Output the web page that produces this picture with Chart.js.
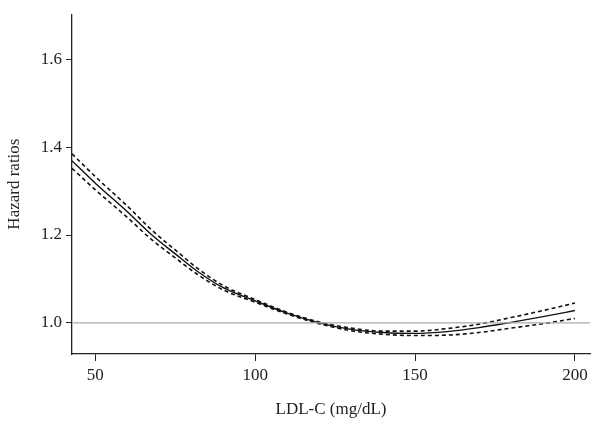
<!DOCTYPE html>
<html><head><meta charset="utf-8">
<script src="https://cdn.jsdelivr.net/npm/chart.js@4/dist/chart.umd.min.js"></script>
<style>html,body{margin:0;background:#fff}#wrap{width:594px;height:424px}</style>
</head><body><div id="wrap"><canvas id="c"></canvas></div>
<script>
const ldl = [42.7, 50, 60, 67.7, 75, 82, 90, 100, 110, 120, 130, 140, 150, 160, 170, 180, 190, 200];
const hr = [1.369, 1.318, 1.253, 1.2, 1.157, 1.117, 1.08, 1.05, 1.022, 1.0, 0.985, 0.978, 0.976, 0.98, 0.989, 1.001, 1.014, 1.028];
const upper = [1.385, 1.333, 1.266, 1.211, 1.166, 1.124, 1.085, 1.053, 1.024, 1.002, 0.988, 0.981, 0.981, 0.987, 0.997, 1.012, 1.028, 1.045];
const lower = [1.352, 1.303, 1.24, 1.189, 1.148, 1.11, 1.075, 1.047, 1.02, 0.998, 0.982, 0.974, 0.971, 0.972, 0.978, 0.988, 0.998, 1.01];
const xTicks = [50, 100, 150, 200];
const yTicks = [1.0, 1.2, 1.4, 1.6];
const xMin = 42.7, xMax = 204.7;

const pts = arr => ldl.map((x, i) => ({x: x, y: arr[i]}));
const font = {family: "'Liberation Serif', serif", size: 17};

new Chart(document.getElementById('c'), {
    type: 'line',
    data: {
        datasets: [
            {data: [{x: xMin, y: 1}, {x: xMax, y: 1}], borderColor: '#aaa', borderWidth: 1.2, pointRadius: 0},
            {data: pts(upper), borderColor: '#111', borderWidth: 1.6, borderDash: [4, 3], pointRadius: 0, cubicInterpolationMode: 'monotone'},
            {data: pts(lower), borderColor: '#111', borderWidth: 1.6, borderDash: [4, 3], pointRadius: 0, cubicInterpolationMode: 'monotone'},
            {data: pts(hr), borderColor: '#111', borderWidth: 1.4, pointRadius: 0, cubicInterpolationMode: 'monotone'}
        ]
    },
    options: {
        responsive: true,
        maintainAspectRatio: false,
        animation: false,
        layout: {padding: {right: 4, top: -14}},
        plugins: {legend: {display: false}, tooltip: {enabled: false}},
        scales: {
            x: {
                type: 'linear', min: xMin, max: xMax,
                afterBuildTicks: s => { s.ticks = xTicks.map(v => ({value: v})); },
                afterFit: s => { s.height = 70; },
                border: {color: '#222', width: 1.3},
                grid: {drawOnChartArea: false, color: '#222', tickLength: 7},
                ticks: {color: '#222', font: font, padding: 4},
                title: {display: true, text: 'LDL-C (mg/dL)', color: '#222', font: font, padding: {top: 4}}
            },
            y: {
                min: 0.929, max: 1.703,
                afterBuildTicks: s => { s.ticks = yTicks.map(v => ({value: v})); },
                afterFit: s => { s.width = 72; },
                border: {color: '#222', width: 1.3},
                grid: {drawOnChartArea: false, color: '#222', tickLength: 6},
                ticks: {color: '#222', font: font, padding: 4, callback: v => v.toFixed(1)},
                title: {display: true, text: 'Hazard ratios', color: '#222', font: font, padding: {bottom: 2}}
            }
        }
    }
});
</script></body></html>
